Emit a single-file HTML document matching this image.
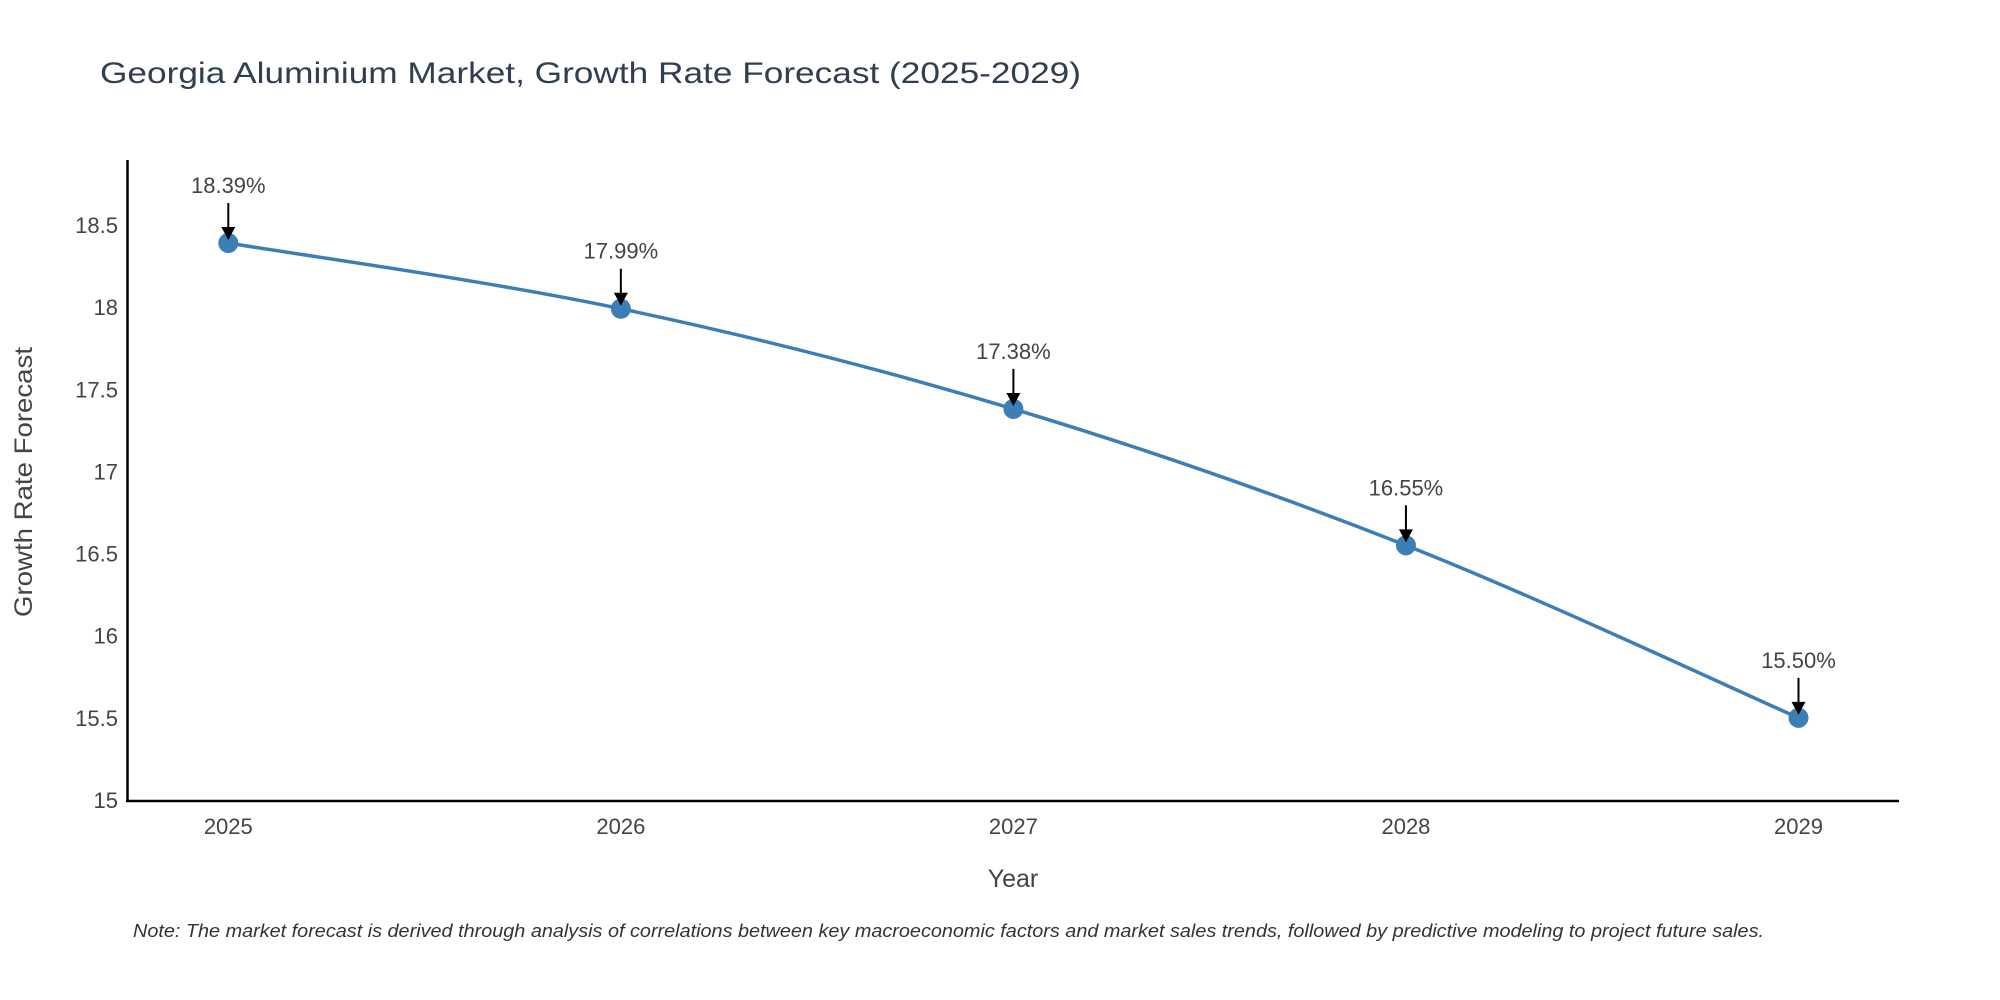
<!DOCTYPE html>
<html><head><meta charset="utf-8">
<style>
html,body{margin:0;padding:0;background:#fff;}
svg{display:block;font-family:"Liberation Sans","DejaVu Sans",sans-serif;}
</style></head>
<body>
<svg id="chart" width="2000" height="1000" viewBox="0 0 2000 1000">
<text x="100" y="83" font-size="30" fill="#2f3e50" textLength="981" lengthAdjust="spacingAndGlyphs">Georgia Aluminium Market, Growth Rate Forecast (2025-2029)</text>
<g id="yticks"></g>
<g id="xticks"></g>
<line x1="127.5" y1="160" x2="127.5" y2="802" stroke="#000" stroke-width="2.5"/>
<line x1="126" y1="801" x2="1899" y2="801" stroke="#000" stroke-width="2.5"/>
<path id="line" fill="none" stroke="#3d7eb4" stroke-width="3.5"/>
<g id="points"></g>
<g id="annots"></g>
<text x="1013" y="887" font-size="25" fill="#444" text-anchor="middle">Year</text>
<text transform="translate(32,482) rotate(-90)" font-size="25" fill="#444" text-anchor="middle" textLength="270" lengthAdjust="spacingAndGlyphs">Growth Rate Forecast</text>
<text x="133" y="937" font-size="18" font-style="italic" fill="#333" textLength="1631" lengthAdjust="spacingAndGlyphs">Note: The market forecast is derived through analysis of correlations between key macroeconomic factors and market sales trends, followed by predictive modeling to project future sales.</text>
</svg>
<script>
const years = [2025, 2026, 2027, 2028, 2029];
const growth = [18.39, 17.99, 17.38, 16.55, 15.50];
const labels = ["18.39%", "17.99%", "17.38%", "16.55%", "15.50%"];
const yTicks = [15, 15.5, 16, 16.5, 17, 17.5, 18, 18.5];

const NS = "http://www.w3.org/2000/svg";
function xs(v){ return 228.3 + (v - 2025) * 392.55; }
function ys(v){ return 800 - (v - 15) * 164.3; }
function mk(tag, attrs, parent){
  const e = document.createElementNS(NS, tag);
  for (const k in attrs) e.setAttribute(k, attrs[k]);
  parent.appendChild(e); return e;
}
const yg = document.getElementById('yticks');
yTicks.forEach(t => {
  const e = mk('text', {x: 118, y: ys(t) + 8, 'font-size': 22, fill: '#444', 'text-anchor': 'end'}, yg);
  
  
  e.textContent = String(t);
});
const xg = document.getElementById('xticks');
years.forEach(y => {
  const e = mk('text', {x: xs(y), y: 834, 'font-size': 22, fill: '#444', 'text-anchor': 'middle'}, xg);
  
  
  e.textContent = String(y);
});
const P = years.map((y, i) => [xs(y), ys(growth[i])]);
let d = 'M' + P[0][0] + ',' + P[0][1];
for (let i = 0; i < P.length - 1; i++) {
  const p0 = P[Math.max(0, i - 1)], p1 = P[i], p2 = P[i + 1], p3 = P[Math.min(P.length - 1, i + 2)];
  const c1 = [p1[0] + (p2[0] - p0[0]) / 6, p1[1] + (p2[1] - p0[1]) / 6];
  const c2 = [p2[0] - (p3[0] - p1[0]) / 6, p2[1] - (p3[1] - p1[1]) / 6];
  d += ' C' + c1[0] + ',' + c1[1] + ' ' + c2[0] + ',' + c2[1] + ' ' + p2[0] + ',' + p2[1];
}
document.getElementById('line').setAttribute('d', d);
const pg = document.getElementById('points'), ag = document.getElementById('annots');
P.forEach((p, i) => {
  const c = mk('circle', {cx: p[0], cy: p[1], r: 10, fill: '#3d7eb4'}, pg);
  
  
  const l = mk('line', {x1: p[0], y1: p[1] - 40, x2: p[0], y2: p[1] - 14, stroke: '#000', 'stroke-width': 2}, ag);
  
  
  const h = mk('polygon', {points: (p[0]-7)+','+(p[1]-16)+' '+(p[0]+7)+','+(p[1]-16)+' '+p[0]+','+(p[1]-3), fill: '#000'}, ag);
  
  
  const t = mk('text', {x: p[0], y: p[1] - 50, 'font-size': 22, fill: '#444', 'text-anchor': 'middle'}, ag);
  
  
  t.textContent = labels[i];
});
</script>
</body></html>
